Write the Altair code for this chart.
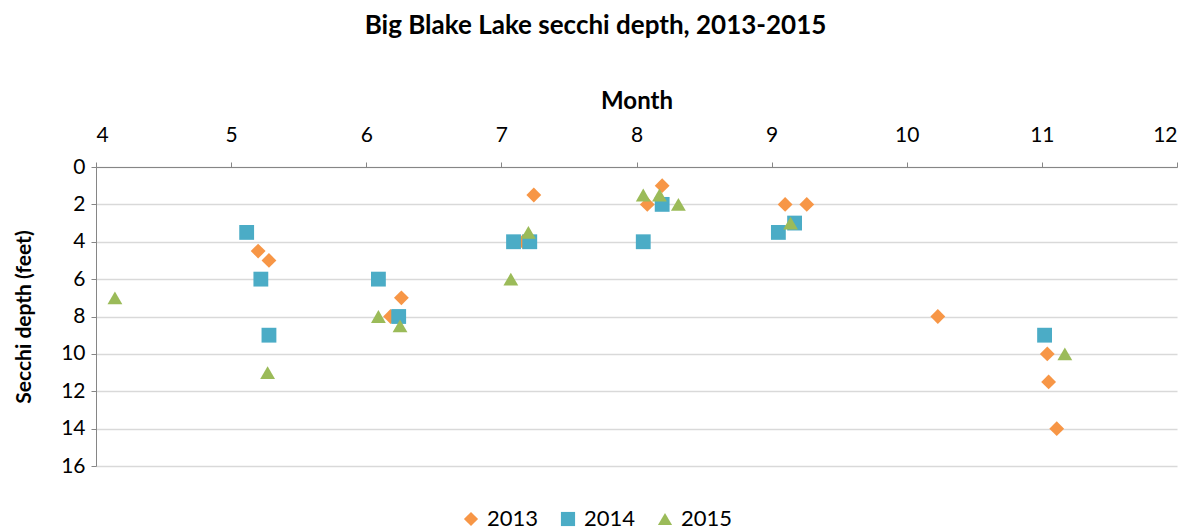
import altair as alt
import pandas as pd

# Data
month_2013 = [5.20, 5.28, 6.26, 6.18, 7.24, 7.16, 8.19, 8.08, 9.10, 9.26, 10.23, 11.04, 11.05, 11.11]
depth_2013 = [4.5, 5.0, 7.0, 8.0, 1.5, 4.0, 1.0, 2.0, 2.0, 2.0, 8.0, 10.0, 11.5, 14.0]
month_2014 = [5.115, 5.22, 5.28, 6.09, 6.24, 7.09, 7.21, 8.19, 8.05, 9.05, 9.17, 11.02]
depth_2014 = [3.5, 6.0, 9.0, 6.0, 8.0, 4.0, 4.0, 2.0, 4.0, 3.5, 3.0, 9.0]
month_2015 = [4.14, 5.27, 6.09, 6.25, 7.20, 7.07, 8.05, 8.17, 8.31, 9.14, 11.17]
depth_2015 = [7.0, 11.0, 8.0, 8.5, 3.5, 6.0, 1.5, 1.5, 2.0, 3.0, 10.0]

years = ["2013", "2014", "2015"]
colors = ["#F79646", "#4BACC6", "#9BBB59"]
shapes = ["diamond", "square", "triangle-up"]

rows = []
for yr, ms, ds in zip(years, [month_2013, month_2014, month_2015], [depth_2013, depth_2014, depth_2015]):
    for m, d in zip(ms, ds):
        rows.append({"Year": yr, "Month": m, "Depth": d})
df = pd.DataFrame(rows)

FONT = "Lato"

chart = alt.Chart(df).mark_point(filled=True, opacity=1, size=220).encode(
    x=alt.X("Month:Q",
            scale=alt.Scale(domain=[4, 12], nice=False, zero=False),
            axis=alt.Axis(orient="top", values=list(range(4, 13)), title="Month",
                          grid=False, tickSize=5, tickColor="#868686",
                          domainColor="#868686", labelFontSize=21, labelFont=FONT,
                          labelColor="#000000", titleFontSize=24, titleFont=FONT,
                          titleFontWeight="bold", titleColor="#000000",
                          labelPadding=17, titlePadding=11)),
    y=alt.Y("Depth:Q",
            scale=alt.Scale(domain=[0, 16], reverse=True, nice=False),
            axis=alt.Axis(values=list(range(0, 17, 2)), title="Secchi depth (feet)",
                          grid=True, gridColor="#D9D9D9", gridWidth=1.5,
                          tickSize=5, tickColor="#868686", domainColor="#868686",
                          labelFontSize=21, labelFont=FONT, labelColor="#000000",
                          titleFontSize=21, titleFont=FONT, titleFontWeight="bold",
                          titleColor="#000000", labelPadding=6, titlePadding=26)),
    color=alt.Color("Year:N", scale=alt.Scale(domain=years, range=colors),
                    legend=alt.Legend(orient="none", legendX=364, legendY=341,
                                      direction="horizontal", title=None,
                                      labelFontSize=22, labelFont=FONT,
                                      labelColor="#000000", symbolSize=200,
                                      columnPadding=18, labelOffset=5,
                                      symbolOpacity=1)),
    shape=alt.Shape("Year:N", scale=alt.Scale(domain=years, range=shapes)),
).properties(
    width=1081,
    height=299,
    title=alt.TitleParams("Big Blake Lake secchi depth, 2013-2015", font=FONT,
                          fontSize=26, fontWeight="bold", color="#000000",
                          anchor="middle", offset=50, dx=-41),
    autosize=alt.AutoSizeParams(type="none"),
    padding={"left": 88, "top": 159, "right": 12, "bottom": 66},
).configure_view(stroke=None)

chart.save("out.html", embed_options={"renderer": "svg", "actions": False})
